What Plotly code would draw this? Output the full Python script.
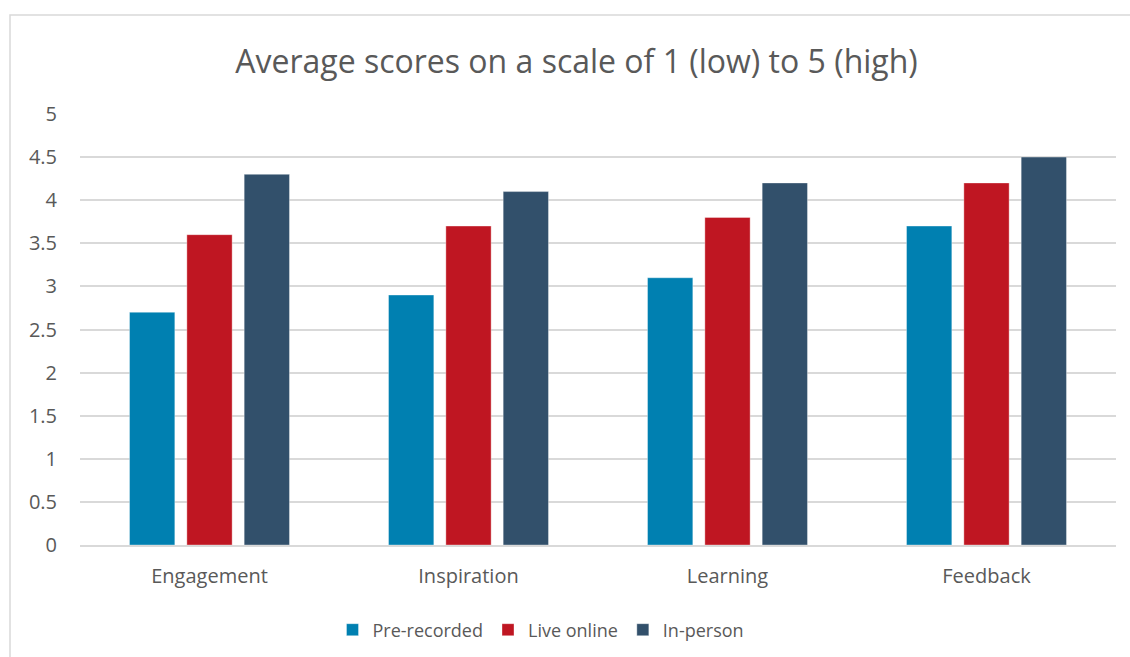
import plotly.graph_objects as go

categories = ["Engagement", "Inspiration", "Learning", "Feedback"]
series_names = ["Pre-recorded", "Live online", "In-person"]
pre_recorded = [2.7, 2.9, 3.1, 3.7]
live_online = [3.6, 3.7, 3.8, 4.2]
in_person = [4.3, 4.1, 4.2, 4.5]
colors = ["#0080B1", "#BF1622", "#32506B"]
y_ticks = [0, 0.5, 1, 1.5, 2, 2.5, 3, 3.5, 4, 4.5, 5]
y_tick_labels = ["0", "0.5", "1", "1.5", "2", "2.5", "3", "3.5", "4", "4.5", "5"]

FONT = "Open Sans"
TXT = "#595959"

fig = go.Figure()
for name, vals, col in zip(series_names, [pre_recorded, live_online, in_person], colors):
    fig.add_trace(go.Bar(
        name=name, x=categories, y=vals,
        marker=dict(color=col, line=dict(color="rgba(255,255,255,0.35)", width=1)),
    ))

fig.update_layout(
    width=1130, height=657,
    margin=dict(l=80, r=14, t=114, b=112, autoexpand=False),
    paper_bgcolor="white", plot_bgcolor="white",
    barmode="group", bargap=0.336, bargroupgap=0.21,
    font=dict(family=FONT, color=TXT, size=20),
    title=dict(
        text="Average scores on a scale of 1 (low) to 5 (high)",
        x=576.5 / 1130, xref="container", xanchor="center",
        y=1 - 62 / 657, yref="container", yanchor="middle",
        font=dict(family=FONT, size=32, color=TXT),
    ),
    legend=dict(
        orientation="h", x=0.5 - 57 / 1036, xanchor="center", xref="paper",
        y=-85 / 431, yanchor="middle",
        font=dict(family=FONT, size=18, color=TXT),
        itemwidth=30, tracegroupgap=0,
        traceorder="normal",
    ),
    showlegend=True,
)
fig.update_xaxes(
    showgrid=False, showline=True, linecolor="#D9D9D9", linewidth=1.5,
    ticks="", tickfont=dict(family=FONT, size=20, color=TXT),
    ticklabelstandoff=12,
)
fig.update_yaxes(
    range=[0, 5], tickvals=y_ticks, ticktext=y_tick_labels,
    showgrid=True, gridcolor="#D9D9D9", gridwidth=1.5,
    zeroline=False, showline=False, ticks="",
    tickfont=dict(family=FONT, size=20, color=TXT),
    ticklabelstandoff=22,
)
# chart area border (left and top visible in frame)
fig.add_shape(
    type="rect", xref="paper", yref="paper",
    x0=(10 - 80) / 1036, x1=1.2, y0=-0.5, y1=(545 - 15) / 431,
    line=dict(color="#D9D9D9", width=1.5), fillcolor="rgba(0,0,0,0)", layer="below",
)

fig.write_html("out.html")
